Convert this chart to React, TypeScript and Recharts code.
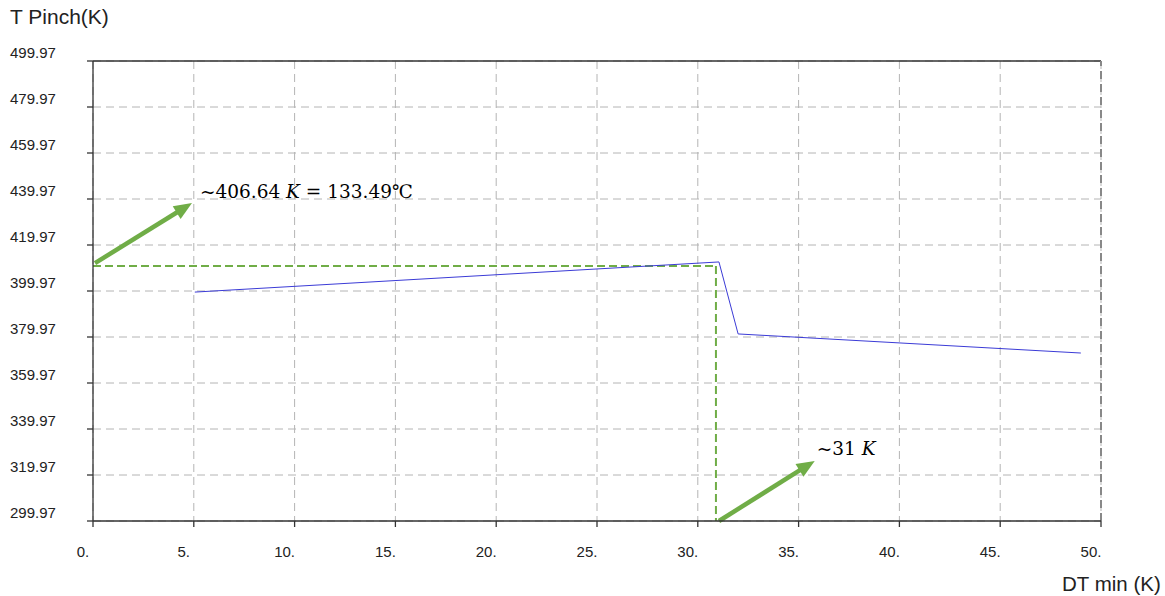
import React from 'react';
import { LineChart, Line, XAxis, YAxis, CartesianGrid, ReferenceLine } from 'recharts';

const dtMin = [5.05, 31.05, 32.0, 49.0];
const tPinch = [399.5, 412.6, 381.3, 373.0];
const xTicks = [0, 5, 10, 15, 20, 25, 30, 35, 40, 45, 50];
const yTicks = [299.97, 319.97, 339.97, 359.97, 379.97, 399.97, 419.97, 439.97, 459.97, 479.97, 499.97];
const pinchGuideT = 410.8;
const pinchGuideDT = 30.9;
const arrow1 = [{ x: 0.1, y: 412.1 }, { x: 4.91, y: 438.2 }];
const arrow2 = [{ x: 31.05, y: 299.97 }, { x: 35.8, y: 326.1 }];
const label1Before = '~406.64 ';
const label1After = ' = 133.49℃';
const label2Before = '~31 ';
const labelK = 'K';

const data = dtMin.map((d, i) => ({ dt: d, t: tPinch[i] }));

const GREEN = '#70AD47';
const AXIS = '#333333';

const YTick = (props: any) => {
  const { y, payload } = props;
  return (
    <text x={10} y={y - 3.5} fontSize={15} fill="#222" fontFamily="Liberation Sans, Arial, sans-serif" textAnchor="start">
      {payload.value.toFixed(2)}
    </text>
  );
};

const XTick = (props: any) => {
  const { x, y, payload } = props;
  return (
    <text x={x - 10} y={y + 28} fontSize={15} fill="#222" fontFamily="Liberation Sans, Arial, sans-serif" textAnchor="middle">
      {payload.value + '.'}
    </text>
  );
};

const makeArrow = (before: string, after: string, dx: number, dy: number) => (props: any) => {
  const { x1, y1, x2, y2 } = props;
  const vx = x2 - x1;
  const vy = y2 - y1;
  const len = Math.sqrt(vx * vx + vy * vy);
  const ux = vx / len;
  const uy = vy / len;
  const nx = -uy;
  const ny = ux;
  const L = 18;
  const W = 15;
  const bx = x2 - ux * L;
  const by = y2 - uy * L;
  return (
    <g>
      <line x1={x1} y1={y1} x2={bx + ux * 2} y2={by + uy * 2} stroke={GREEN} strokeWidth={4.5} />
      <polygon
        points={`${x2},${y2} ${bx + nx * W / 2},${by + ny * W / 2} ${bx - nx * W / 2},${by - ny * W / 2}`}
        fill={GREEN}
      />
      <text x={x2 + dx} y={y2 + dy} fontSize={18.5} fill="#000" fontFamily="DejaVu Serif, serif">
        {before}
        <tspan fontStyle="italic">{labelK}</tspan>
        {after}
      </text>
    </g>
  );
};

export default function App() {
  return (
    <div style={{ position: 'absolute', left: 0, top: 0, background: '#fff' }}>
      <div style={{ position: 'relative', width: 1165, height: 596 }}>
        <div
          style={{
            position: 'absolute',
            left: 10,
            top: 4,
            fontSize: 21,
            fontFamily: 'Liberation Sans, Arial, sans-serif',
            color: '#222',
            lineHeight: '26px',
          }}
        >
          T Pinch(K)
        </div>
        <div
          style={{
            position: 'absolute',
            left: 1062,
            top: 571,
            fontSize: 20.5,
            fontFamily: 'Liberation Sans, Arial, sans-serif',
            color: '#222',
            lineHeight: '26px',
          }}
        >
          DT min (K)
        </div>
        <LineChart
          width={1165}
          height={596}
          data={data}
          margin={{ top: 61, right: 64, left: 0, bottom: 0 }}
        >
          <CartesianGrid stroke="#b4b4b4" strokeDasharray="8 5" strokeWidth={1} />
          <XAxis
            dataKey="dt"
            type="number"
            domain={[0, 50]}
            ticks={xTicks}
            height={75}
            axisLine={{ stroke: AXIS, strokeWidth: 1.3 }}
            tickLine={{ stroke: AXIS, strokeWidth: 1.3 }}
            tickSize={6}
            tick={<XTick />}
            interval={0}
            allowDataOverflow
          />
          <YAxis
            type="number"
            domain={[299.97, 499.97]}
            ticks={yTicks}
            width={93}
            axisLine={{ stroke: AXIS, strokeWidth: 1.3 }}
            tickLine={{ stroke: AXIS, strokeWidth: 1.3 }}
            tickSize={6}
            tick={<YTick />}
            interval={0}
            allowDataOverflow
          />
          <ReferenceLine y={499.97} stroke={AXIS} strokeWidth={1.3} />
          <ReferenceLine x={50} stroke="#888" strokeWidth={2} strokeDasharray="8 5" />
          <ReferenceLine
            segment={[{ x: 0, y: pinchGuideT }, { x: pinchGuideDT, y: pinchGuideT }]}
            stroke={GREEN}
            strokeWidth={2}
            strokeDasharray="8 4"
          />
          <ReferenceLine
            segment={[{ x: pinchGuideDT, y: pinchGuideT }, { x: pinchGuideDT, y: 299.97 }]}
            stroke={GREEN}
            strokeWidth={2}
            strokeDasharray="8 4"
          />
          <Line
            dataKey="t"
            stroke="#3b3bd6"
            strokeWidth={1}
            dot={false}
            activeDot={false}
            isAnimationActive={false}
          />
          <ReferenceLine
            segment={arrow1}
            ifOverflow="visible"
            shape={makeArrow(label1Before, label1After, 8, -5)}
          />
          <ReferenceLine
            segment={arrow2}
            ifOverflow="visible"
            shape={makeArrow(label2Before, '', 2, -6)}
          />
        </LineChart>
      </div>
    </div>
  );
}
